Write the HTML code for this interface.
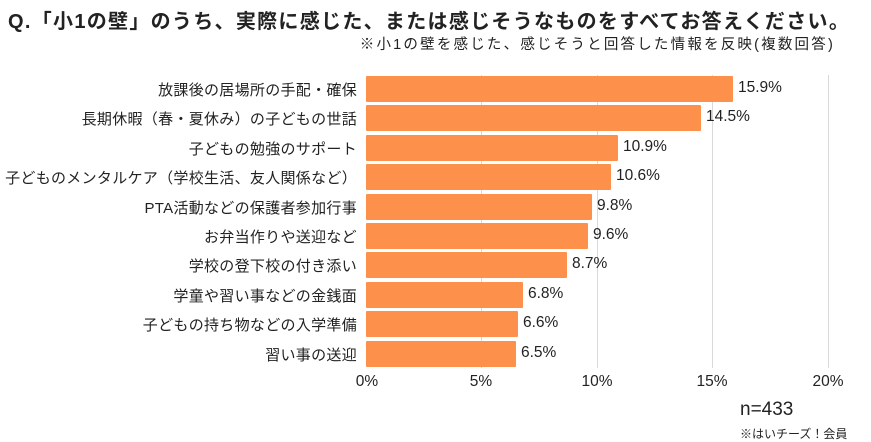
<!DOCTYPE html><html><head><meta charset="utf-8"><style>
body{margin:0;width:871px;height:442px;background:#fff;font-family:"Liberation Sans","Noto Sans CJK JP",sans-serif;color:#222;position:relative;overflow:hidden}
.a{position:absolute;white-space:nowrap}
.l{right:514px;font-size:15px;letter-spacing:0.3px;text-align:right}
.v{font-size:15.5px}
.b{position:absolute;left:366px;height:26px;background:#fd914c;border-radius:1px}
.g{position:absolute;top:75px;height:293px;width:1px;background:#d9d9d9}
.t{font-size:15.5px;top:373px;transform:translateX(-50%)}
</style></head><body>
<div class="a" style="left:8px;top:5px;font-size:20px;letter-spacing:1.3px;font-weight:bold">Q.「小1の壁」のうち、実際に感じた、または感じそうなものをすべてお答えください。</div>
<div class="a" style="right:36px;top:33px;font-size:14.5px;letter-spacing:2.2px">※小1の壁を感じた、感じそうと回答した情報を反映(複数回答)</div>
<div class="g" style="left:481px"></div><div class="g" style="left:597px"></div><div class="g" style="left:712px"></div><div class="g" style="left:828px"></div>
<div class="b" style="top:76px;width:367px"></div><div class="a l" style="top:79px">放課後の居場所の手配・確保</div><div class="a v" style="left:738px;top:79px">15.9%</div>
<div class="b" style="top:105.4px;width:335px"></div><div class="a l" style="top:108px">長期休暇（春・夏休み）の子どもの世話</div><div class="a v" style="left:706px;top:108px">14.5%</div>
<div class="b" style="top:134.8px;width:252px"></div><div class="a l" style="top:138px">子どもの勉強のサポート</div><div class="a v" style="left:623px;top:138px">10.9%</div>
<div class="b" style="top:164.2px;width:245px"></div><div class="a l" style="top:167px">子どものメンタルケア（学校生活、友人関係など）</div><div class="a v" style="left:616px;top:167px">10.6%</div>
<div class="b" style="top:193.6px;width:226px"></div><div class="a l" style="top:197px">PTA活動などの保護者参加行事</div><div class="a v" style="left:597px;top:197px">9.8%</div>
<div class="b" style="top:223px;width:222px"></div><div class="a l" style="top:226px">お弁当作りや送迎など</div><div class="a v" style="left:593px;top:226px">9.6%</div>
<div class="b" style="top:252.4px;width:201px"></div><div class="a l" style="top:255px">学校の登下校の付き添い</div><div class="a v" style="left:572px;top:255px">8.7%</div>
<div class="b" style="top:281.8px;width:157px"></div><div class="a l" style="top:285px">学童や習い事などの金銭面</div><div class="a v" style="left:528px;top:285px">6.8%</div>
<div class="b" style="top:311.2px;width:152px"></div><div class="a l" style="top:314px">子どもの持ち物などの入学準備</div><div class="a v" style="left:523px;top:314px">6.6%</div>
<div class="b" style="top:340.6px;width:150px"></div><div class="a l" style="top:344px">習い事の送迎</div><div class="a v" style="left:521px;top:344px">6.5%</div>
<div class="a t" style="left:367px">0%</div><div class="a t" style="left:481px">5%</div><div class="a t" style="left:597px">10%</div><div class="a t" style="left:712px">15%</div><div class="a t" style="left:828px">20%</div>
<div class="a" style="left:740px;top:399px;font-size:19px">n=433</div>
<div class="a" style="left:740px;top:425px;font-size:12px">※はいチーズ！会員</div>
</body></html>
